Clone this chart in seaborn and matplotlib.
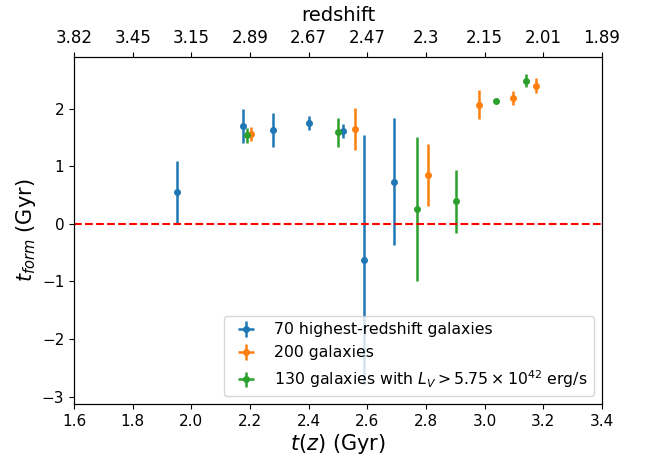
import matplotlib
matplotlib.use("Agg")
import matplotlib.pyplot as plt
import seaborn as sns
import numpy as np

# Data (t(z) in Gyr, t_form in Gyr, symmetric error)
blue_t = [1.951, 2.175, 2.28, 2.40, 2.516, 2.59, 2.692]
blue_y = [0.55, 1.70, 1.63, 1.76, 1.61, -0.62, 0.735]
blue_e = [0.55, 0.30, 0.30, 0.12, 0.12, 2.17, 1.10]

orange_t = [2.202, 2.558, 2.807, 2.981, 3.098, 3.175]
orange_y = [1.56, 1.65, 0.85, 2.07, 2.19, 2.40]
orange_e = [0.12, 0.37, 0.54, 0.25, 0.12, 0.13]

green_t = [2.191, 2.50, 2.771, 2.902, 3.038, 3.141]
green_y = [1.54, 1.59, 0.26, 0.39, 2.13, 2.49]
green_e = [0.13, 0.25, 1.25, 0.55, 0.02, 0.12]

labels = ["70 highest-redshift galaxies", "200 galaxies",
          r"130 galaxies with $L_V > 5.75\times10^{42}$ erg/s"]

bottom_ticks = [1.6, 1.8, 2.0, 2.2, 2.4, 2.6, 2.8, 3.0, 3.2, 3.4]
redshift_labels = ["3.82", "3.45", "3.15", "2.89", "2.67", "2.47", "2.3", "2.15", "2.01", "1.89"]

sns.set_theme(style="ticks", rc={"axes.grid": False, "text.color": "black",
                                 "axes.labelcolor": "black"})
plt.rcParams['font.family'] = ['DejaVu Sans']
pal = sns.color_palette("tab10")

fig, ax = plt.subplots(figsize=(6.5, 4.57), dpi=100)
fig.subplots_adjust(left=74/650, right=602/650, top=1-57/457, bottom=1-404/457)

for t, y, e, c, lab in [(blue_t, blue_y, blue_e, pal[0], labels[0]),
                        (orange_t, orange_y, orange_e, pal[1], labels[1]),
                        (green_t, green_y, green_e, pal[2], labels[2])]:
    ax.errorbar(t, y, yerr=e, xerr=0.004, fmt='o', color=c, markersize=4,
                elinewidth=1.8, label=lab)

ax.axhline(0, color='red', linestyle='--', linewidth=1.5)
ax.set_xlim(1.6, 3.4)
ax.set_ylim(-3.13, 2.90)
ax.set_xticks(bottom_ticks)
ax.set_yticks([-3, -2, -1, 0, 1, 2])
ax.tick_params(labelsize=11, direction='out', length=3.5, width=0.8, colors='black')
for s in ax.spines.values():
    s.set_linewidth(0.8)
    s.set_color('black')
ax.set_xlabel(r"$t(z)$ (Gyr)", fontsize=15, labelpad=2)
ax.set_ylabel(r"$t_{form}$ (Gyr)", fontsize=15, labelpad=3)
ax.legend(loc='lower right', fontsize=11.3, frameon=True, framealpha=0.8,
          handlelength=2.0)

ax2 = ax.twiny()
ax2.set_xlim(ax.get_xlim())
ax2.set_xticks(bottom_ticks)
ax2.set_xticklabels(redshift_labels)
ax2.tick_params(labelsize=12, direction='out', length=3.5, width=0.8, colors='black')
ax2.set_xlabel("redshift", fontsize=14, labelpad=6)
for s in ax2.spines.values():
    s.set_linewidth(0.8)
    s.set_color('black')

fig.savefig("out.png", dpi=100)
